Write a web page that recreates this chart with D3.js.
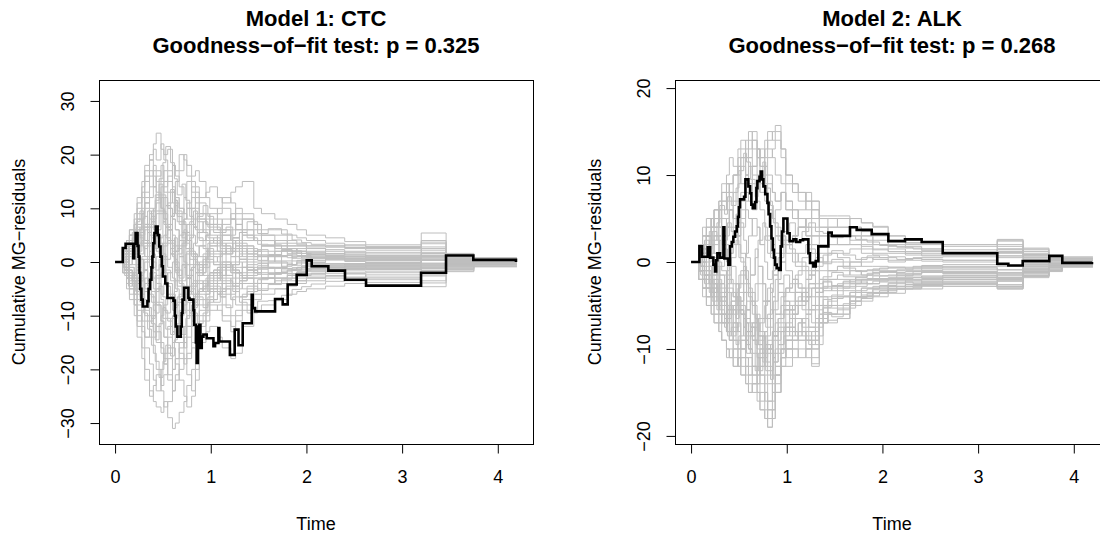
<!DOCTYPE html>
<html><head><meta charset="utf-8">
<script src="https://cdn.jsdelivr.net/npm/d3@7"></script>
<style>body{margin:0;background:#fff} text{font-family:"Liberation Sans",Arial,Helvetica,sans-serif;fill:#000}</style>
</head><body><svg id="c" width="1100" height="537" xmlns="http://www.w3.org/2000/svg"></svg>
<script>
// ---------- data ----------
const endTime = 4.2;
const xTicks = [0, 1, 2, 3, 4];
const ctcYTicks = [-30, -20, -10, 0, 10, 20, 30];
const alkYTicks = [-20, -10, 0, 10, 20];
const titles = [["Model 1: CTC", "Goodness\u2212of\u2212fit test: p = 0.325"],
                ["Model 2: ALK", "Goodness\u2212of\u2212fit test: p = 0.268"]];
const xLabel = "Time";
const yLabel = "Cumulative MG\u2212residuals";

// CTC simulated paths, group A
const ctcTimesA = [0,0.08,0.12,0.15,0.2,0.23,0.28,0.31,0.36,0.4,0.43,0.48,0.51,0.55,0.6,0.63,0.67,0.72,0.75,0.8,0.84,0.88,0.95,0.99,1.07,1.12,1.21,1.26,1.33,1.45,1.53,1.67,1.8,1.9,2.0,2.2,2.4,2.62,3.2,3.46,3.75];
const ctcSimsA = [
[0,1,3,5,8,12,15,18,20,22,24,21,19,17,14,12,10,9,8,10,12,9,8,7,6,8,9,7,6, 4,3,4,3,3,2.5,2,1.5,1.2,1.5,0.6,0.3],
[0,-1,-3,-5,-8,-12,-16,-20,-24,-26,-27,-28,-26,-29,-31,-30,-28,-26,-23,-20,-16,-12,-9,-7,-6,-5,-6,-4,-3, -3,-4,-3,-3,-3.5,-3,-2.5,-2.2,-2.8,-3.5,-1.2,-0.6],
[0,2,4,6,9,11,14,17,19,21,19,22,20,21,18,17,20,19,16,15,14,12,13,14,12,11,13,14,15, 10,9,8,7,6,5,4.5,3.8,3.2,5.4,1.6,0.8],
[0,-2,-5,-7,-10,-14,-18,-22,-25,-23,-21,-24,-27,-26,-24,-22,-20,-18,-21,-24,-22,-15,-13,-12,-14,-16,-18,-17,-12, -9,-8,-7,-6,-5.5,-5,-4.5,-4,-3.8,-4.6,-1.8,-0.9],
[0,1,2,4,6,9,12,15,17,14,12,10,8,11,13,15,17,20,18,16,17,15,12,10,8,6,5,7,8, 6,5,5,4,3.5,3,2.8,2.5,2.2,2.8,1.2,0.6],
[0,-1,-2,-4,-7,-10,-13,-16,-19,-22,-24,-20,-17,-14,-16,-19,-22,-25,-27,-25,-20,-14,-11,-9,-8,-10,-12,-11,-9, -7,-6,-5,-4.5,-4,-3.5,-3,-2.8,-2.4,-2.0,-1.0,-0.5],
[0,2,3,5,7,8,10,13,16,18,17,15,13,10,8,6,4,3,5,7,9,8,7,9,10,12,11,9,8, 7,6,6,5,4.5,4,3.5,3,2.7,3.4,1.4,0.7],
[0,-1,-3,-4,-6,-9,-12,-14,-12,-10,-13,-16,-19,-22,-20,-18,-16,-14,-12,-15,-13,-11,-10,-8,-9,-11,-13,-10,-8, -6,-5,-5,-4,-3.5,-3,-2.6,-2.2,-2,-2.6,-0.8,-0.4],
[0,1,3,4,5,7,9,11,12,14,16,18,15,13,11,9,7,8,10,12,10,8,6,4,3,5,4,2,1, 2,3,2,1.5,2,1.5,1.2,1,0.8,1.2,0.4,0.2],
[0,-2,-3,-5,-8,-11,-9,-7,-10,-13,-15,-17,-19,-16,-13,-10,-12,-15,-18,-16,-14,-10,-8,-7,-5,-4,-3,-2,-3, -4,-3,-3,-2.5,-2,-1.8,-1.5,-1.2,-1.0,-1.6,-0.6,-0.3],
[0,1,2,3,5,6,8,10,8,6,9,12,14,16,18,16,14,12,10,8,6,4,5,6,7,5,4,3,5, 4,4,3.5,3,3,2.6,2.3,2,1.8,2.2,0.9,0.5],
[0,-1,-2,-3,-4,-6,-8,-10,-12,-14,-12,-10,-8,-6,-9,-12,-14,-16,-14,-12,-10,-8,-6,-5,-4,-6,-7,-5,-4, -3,-3,-3,-2.5,-2,-2.2,-1.8,-1.5,-1.4,-0.9,-0.5,-0.3],
[0,2,4,3,6,8,6,4,7,10,12,10,8,6,4,2,5,8,11,14,13,11,9,8,6,7,8,6,4, 5,4,3,2,2.5,2,1.6,1.3,1.1,0.6,0.7,0.3],
[0,-2,-1,-3,-2,-4,-6,-4,-2,-5,-8,-11,-14,-17,-20,-18,-15,-12,-10,-8,-6,-5,-4,-3,-2,-4,-5,-3,-2, -1,-2,-2,-1.5,-1,-1.2,-1,-0.9,-0.7,-1.2,-0.2,-0.1],
[0,1,0,2,4,3,5,7,9,7,5,3,1,-1,-3,-5,-7,-5,-3,-1,1,3,2,1,0,-1,-2,-1,0, 1,1,0,-0.5,0.3,0,0.4,0.6,0.4,0.9,0.2,0.1],
[0,-1,1,-1,-3,-1,1,3,1,-2,-4,-6,-4,-2,0,2,4,6,4,2,0,-2,-1,0,1,2,1,0,-1, -2,-1,-1,-0.5,-0.2,-0.5,-0.4,-0.3,-0.1,-0.6,-0.1,0],
[0,2,1,3,2,5,8,11,14,17,15,12,9,6,3,0,-3,-1,2,5,3,1,0,-2,-3,-1,1,3,2, 1,0,1,1.5,1.2,1,0.8,0.7,0.5,1.8,0.3,0.1],
[0,-1,-3,-2,-5,-8,-11,-14,-11,-8,-5,-2,1,4,2,-1,-4,-7,-9,-11,-8,-5,-4,-2,-1,-3,-4,-2,-1, -2,-1,-2,-2.5,-2,-1.5,-1.3,-1.1,-0.9,-1.6,-0.4,-0.2],
[0,1,3,5,4,2,4,6,3,0,-3,0,3,6,9,12,10,7,4,1,-2,-1,1,3,5,3,2,4,3, 2,2,1,0.8,1,0.8,0.6,0.3,0.2,-0.5,0.1,0],
[0,-2,-4,-6,-5,-7,-5,-3,-6,-9,-12,-15,-18,-21,-24,-21,-18,-15,-12,-9,-6,-4,-3,-2,-1,0,-1,-2,-1, 0,-1,-1,-0.5,0,-0.3,-0.6,-0.6,-0.5,-1.0,-0.3,-0.1],
[0,0,2,4,7,10,13,16,19,16,13,10,7,4,1,-2,1,4,7,10,8,6,4,3,2,4,6,8,6, 4,3,2.5,2,1.6,1.4,1.5,1.8,1.5,2.5,0.8,0.4],
[0,-1,-2,-1,-3,-5,-8,-11,-14,-17,-20,-23,-21,-18,-15,-12,-9,-6,-3,-5,-7,-6,-5,-4,-6,-8,-10,-9,-7, -5,-4,-3.5,-3,-2.6,-2.4,-2.1,-1.9,-1.7,-2.4,-0.9,-0.4],
[0,1,2,1,3,5,3,1,-1,-3,-5,-7,-9,-11,-13,-15,-17,-19,-17,-15,-12,-9,-7,-5,-3,-5,-7,-8,-6, -4,-3,-2,-1.5,-1,-0.8,-0.6,-0.4,-0.3,0.3,-0.2,0],
[0,-1,0,2,3,6,9,12,10,8,11,14,17,15,13,11,9,12,15,13,11,9,7,5,4,3,2,1,3, 2,1,2,2.5,2,1.8,1.5,1.3,1.0,0.5,0.5,0.2],
[0,1,-1,-2,-4,-3,-6,-9,-12,-10,-8,-11,-14,-12,-10,-8,-6,-9,-12,-10,-8,-7,-6,-4,-2,-1,0,-2,-3, -2,-3,-4,-3.5,-3,-2.8,-2.6,-2.9,-3.0,-2.2,-1.4,-0.7],
[0,2,4,6,5,7,9,7,5,3,6,9,12,10,8,6,3,0,-3,-6,-4,-2,0,2,4,6,8,10,9, 7,5,4,3.5,3.2,3,2.8,3.2,2.9,4.0,1.5,0.7],
[0,-1,-2,-4,-6,-4,-2,0,2,4,2,0,-2,-4,-6,-8,-10,-8,-6,-4,-2,0,2,4,2,0,-2,-4,-5, -4,-3,-2,-2.2,-1.8,-1.5,-1.1,-0.8,-0.6,-0.2,-0.3,-0.1],
[0,0,1,2,1,-1,-3,-5,-3,-1,1,3,5,7,5,3,1,-1,-3,-1,1,3,5,7,9,10,8,6,5, 4,4,3,2.5,2,1.5,1.0,0.6,0.4,1.0,0.2,0.1]
];
// CTC simulated paths, group B
const ctcTimesB = [0,0.1,0.14,0.18,0.22,0.26,0.3,0.34,0.38,0.42,0.46,0.5,0.53,0.58,0.62,0.65,0.7,0.74,0.78,0.82,0.86,0.92,0.97,1.03,1.1,1.16,1.23,1.3,1.38,1.49,1.6,1.74,1.85,1.95,2.05,2.2,2.4,2.62,3.2,3.46,3.75];
const ctcSimsB = [
[0,1.5,2.5,0.5,-1.5,-3.5,-1.5,0.5,3.5,5.5,3.5,1.5,-1.5,-3.5,-1.5,1.5,3.5,5.5,2.5,0.5,-0.5,1.5,3.5,4.5,2.5,1.5,3.5,2.5,1.5, 2.3,1.4,1.2,0.7,1.1,0.8,0.6,0.4,0.6,1.1,0.3,0.15],
[0,-1.5,-3.5,-2.5,-0.5,1.5,3.5,5.5,7.5,4.5,1.5,-1.5,-4.5,-7.5,-5.5,-3.5,-0.5,1.5,-1.5,-3.5,-5.5,-4.5,-2.5,-1.5,-3.5,-2.5,-0.5,0.5,-1.5, -1.3,-2.2,-2.1,-1.4,-0.9,-1.1,-0.9,-0.6,-0.8,-1.5,-0.4,-0.25],
[0,2.5,3.5,5.5,7.5,9.5,6.5,3.5,1.5,-1.5,0.5,3.5,6.5,8.5,10.5,7.5,4.5,2.5,0.5,3.5,5.5,7.5,6.5,5.5,3.5,2.5,4.5,5.5,4.5, 3.3,3.2,2.3,1.7,1.2,1.3,1.1,0.9,0.7,0.3,0.45,0.25],
[0,-1.5,-0.5,1.5,0.5,-2.5,-5.5,-8.5,-10.5,-7.5,-4.5,-6.5,-9.5,-6.5,-3.5,-1.5,-4.5,-7.5,-9.5,-7.5,-5.5,-3.5,-5.5,-7.5,-5.5,-3.5,-4.5,-6.5,-5.5, -3.3,-2.3,-1.3,-1.6,-1.3,-1.1,-0.9,-1.1,-1.3,-0.6,-0.65,-0.35],
[0,0.5,-1.5,-3.5,-5.5,-2.5,0.5,3.5,6.5,9.5,12.5,9.5,6.5,3.5,0.5,-2.5,-0.5,2.5,4.5,6.5,4.5,2.5,0.5,-0.5,1.5,3.5,2.5,0.5,2.5, 1.3,0.2,-0.8,0.2,0.5,0.7,0.4,0.1,-0.2,0.3,0.05,0.05],
[0,0.5,2.5,1.5,3.5,0.5,-1.5,-3.5,-6.5,-9.5,-7.5,-10.5,-12.5,-10.5,-8.5,-6.5,-3.5,-0.5,-2.5,-4.5,-2.5,-0.5,-2.5,-3.5,-1.5,-0.5,-1.5,-3.5,-2.5, -1.3,-0.2,-1.2,-1.1,-0.7,-0.5,-0.3,-0.5,-0.3,0.4,-0.15,-0.05],
[0,-1.5,-0.5,1.5,3.5,5.5,8.5,6.5,4.5,2.5,4.5,7.5,10.5,8.5,11.5,9.5,7.5,5.5,7.5,9.5,7.5,5.5,4.5,3.5,1.5,2.5,4.5,3.5,1.5, 0.3,1.2,2.2,2.1,1.6,1.3,1.1,1.0,0.8,1.6,0.35,0.25],
[0,0.5,-1.5,-3.5,-1.5,0.5,-1.5,-4.5,-7.5,-5.5,-2.5,0.5,3.5,1.5,-1.5,-4.5,-6.5,-4.5,-1.5,1.5,-0.5,-2.5,-4.5,-2.5,-0.5,-2.5,-4.5,-3.5,-1.5, -2.3,-2.2,-1.7,-1.1,-1.5,-1.3,-1.1,-0.9,-0.6,-1.1,-0.45,-0.25],
[0,2.5,1.5,-0.5,1.5,3.5,6.5,9.5,7.5,11.5,14.5,12.5,10.5,13.5,11.5,8.5,5.5,2.5,-0.5,1.5,-1.5,0.5,2.5,1.5,-0.5,1.5,2.5,0.5,-1.5, -0.7,1.2,0.2,1.1,0.7,0.3,0.6,0.5,0.3,-0.3,0.15,0.05],
[0,-1.5,-2.5,-4.5,-3.5,-6.5,-9.5,-12.5,-15.5,-18.5,-21.5,-18.5,-15.5,-17.5,-14.5,-11.5,-13.5,-10.5,-7.5,-9.5,-11.5,-9.5,-7.5,-5.5,-6.5,-4.5,-5.5,-6.5,-4.5, -5.3,-4.2,-3.2,-2.2,-2.5,-2.1,-1.7,-1.4,-1.2,-1.9,-0.75,-0.35],
[0,1.5,2.5,4.5,6.5,4.5,2.5,5.5,8.5,6.5,9.5,7.5,4.5,1.5,-0.5,2.5,5.5,3.5,1.5,-0.5,-2.5,-0.5,1.5,-0.5,-2.5,-1.5,-0.5,1.5,0.5, 1.3,1.2,2.2,1.1,0.9,0.6,0.8,0.6,0.4,0.9,0.25,0.15],
[0,-0.5,-1.5,-3.5,-5.5,-7.5,-5.5,-8.5,-11.5,-14.5,-11.5,-8.5,-10.5,-13.5,-10.5,-7.5,-9.5,-6.5,-4.5,-6.5,-3.5,-5.5,-3.5,-1.5,-2.5,-0.5,-1.5,-2.5,-0.5, -0.3,-1.2,-0.2,-0.6,0.2,-0.1,-0.3,-0.3,-0.1,-0.9,-0.05,-0.05],
[0,1.5,3.5,1.5,3.5,6.5,3.5,6.5,9.5,12.5,15.5,18.5,21.5,18.5,15.5,12.5,14.5,11.5,8.5,6.5,8.5,10.5,8.5,6.5,5.5,6.5,4.5,5.5,7.5, 5.3,6.2,5.2,4.1,3.6,3.3,3.1,2.7,2.5,3.7,1.25,0.65],
[0,-2.5,-4.5,-3.5,-5.5,-3.5,-1.5,-3.5,-5.5,-2.5,-0.5,-2.5,0.5,2.5,4.5,2.5,-0.5,-2.5,-5.5,-8.5,-6.5,-8.5,-6.5,-4.5,-6.5,-8.5,-6.5,-7.5,-9.5, -7.3,-7.2,-6.2,-5.1,-4.6,-4.1,-3.6,-3.5,-3.3,-3.9,-1.65,-0.85]
];
const ctcObsTime = [0,0.08,0.11,0.19,0.20,0.215,0.235,0.245,0.255,0.262,0.275,0.289,0.338,0.35,0.365,0.38,0.39,0.40,0.411,0.425,0.445,0.46,0.475,0.488,0.50,0.525,0.547,0.61,0.625,0.634,0.651,0.686,0.697,0.705,0.721,0.766,0.777,0.819,0.826,0.845,0.853,0.865,0.875,0.881,0.892,0.906,0.923,0.958,1.028,1.045,1.08,1.09,1.2,1.25,1.29,1.334,1.428,1.439,1.463,1.672,1.752,1.804,1.898,2.003,2.055,2.229,2.403,2.623,3.198,3.459,3.744,4.19];
const ctcObsValue = [0,2.6,3.4,0.7,3.4,5.4,3.0,1.0,-2,-5,-7,-8.3,-7.3,-5,-3.3,-1,1.0,3.5,5.4,6.6,5,2.9,1,-0.8,-2.7,-4,-6.7,-7.2,-10,-12,-13.9,-12,-9.5,-7,-4.8,-6.7,-7.0,-9,-11.7,-15,-18.8,-12,-15,-11.7,-16,-13.9,-13.5,-14.2,-15.7,-15.1,-12.3,-14.8,-17.3,-12.6,-15.5,-11.4,-6.1,-8.6,-9.2,-6.9,-7.9,-4.2,-2.4,0.3,-0.8,-1.6,-3.3,-4.4,-2.0,1.2,0.4,0];

// ALK simulated paths, group A
const alkTimesA = [0,0.08,0.12,0.16,0.21,0.24,0.29,0.32,0.37,0.4,0.44,0.49,0.52,0.57,0.6,0.64,0.69,0.72,0.77,0.8,0.85,0.88,0.94,0.99,1.06,1.12,1.2,1.26,1.34,1.43,1.53,1.66,1.78,1.9,2.06,2.24,2.41,2.63,3.2,3.47,3.74,3.88];
const alkSimsA = [
[0,2,3,5,4,6,7,9,10,12,11,13,14,12,15,13,12,11,13,15,14,15,12,10,9,8,7,6, 5,5,4,4,3.5,3,2.5,2,2,1.8,2.4,1.4,0.6,0.5],
[0,-2,-4,-5,-6,-7,-8,-9,-10,-11,-10,-12,-11,-13,-14,-15,-16,-17,-18,-19,-17,-14,-11,-10,-9,-8,-9,-11, -7,-6,-5,-4,-3.5,-3,-2.8,-2.8,-2.6,-2.5,-3.0,-1.6,-1.0,-0.5],
[0,1,2,1,3,4,5,6,8,9,10,12,13,14,12,11,10,9,11,12,13,14,13,9,8,7,8,7, 5,4,4,5,4.5,4,3,2.2,2.1,2,2.6,1.6,0.7,0.6],
[0,-1,-3,-4,-5,-6,-7,-9,-11,-10,-12,-11,-13,-14,-15,-14,-15,-16,-15,-17,-18,-15,-12,-12,-11,-10,-11,-12, -6,-7,-6.5,-4.5,-4.2,-4,-3.6,-3.1,-3.1,-2.8,-3.1,-1.8,-1.1,-0.6],
[0,1,3,4,5,4,6,7,9,8,10,11,9,12,13,14,13,12,10,9,8,7,8,6,5,6,7,5, 4,3,3,2.5,3,2.5,2,1.8,1.5,1.2,1.5,1,0.4,0.3],
[0,-1,-2,-4,-3,-5,-6,-7,-8,-9,-11,-12,-13,-12,-11,-13,-14,-12,-11,-10,-9,-8,-7,-9,-10,-11,-10,-9, -6,-5,-5,-4,-3.8,-3.5,-3.1,-2.6,-2.4,-2.2,-2.6,-1.4,-0.8,-0.4],
[0,2,1,3,2,4,3,5,4,6,5,7,8,10,9,11,13,12,14,13,12,10,9,7,6,5,4,3, 3,2,2,3,2,1.5,1.2,1,1.2,1,2,1.2,0.5,0.2],
[0,-2,-3,-2,-4,-3,-5,-4,-6,-5,-7,-8,-6,-9,-10,-12,-11,-13,-14,-16,-15,-13,-11,-9,-8,-9,-10,-8, -5,-6,-6,-5,-4,-3.6,-3,-2.4,-2.2,-2.0,-2.2,-1.2,-0.6,-0.3],
[0,1,0,3,2,3,5,3,4,6,5,4,6,8,7,6,9,8,11,10,8,7,8,6,5,4,3,2, 2,1,1,1.5,1,0.8,0.6,0.4,0.5,0.6,1.2,0.8,0.3,0.2],
[0,-1,0,-2,-3,-2,-4,-5,-3,-5,-6,-4,-5,-7,-8,-7,-9,-10,-8,-10,-11,-12,-10,-9,-8,-7,-6,-7, -4,-5,-4,-3.5,-3,-3,-2.4,-2,-2,-1.8,-2.2,-1.0,-0.5,-0.2],
[0,2,4,3,5,6,5,7,6,8,7,9,11,10,12,14,12,10,8,6,5,4,3,2,3,4,5,4, 3,4,5,4,3,2,1.8,1.6,1.5,1.4,1.8,0.8,0.5,0.4],
[0,-2,-1,-3,-4,-3,-5,-6,-5,-7,-8,-9,-10,-8,-7,-9,-11,-13,-15,-17,-16,-13,-10,-8,-6,-5,-4,-5, -3,-3,-2.5,-2,-2.5,-2.2,-2,-1.8,-1.6,-1.5,-1.8,-0.8,-0.4,-0.2],
[0,1,2,3,4,5,4,3,2,1,3,5,7,9,11,10,9,8,7,6,5,6,8,7,6,5,4,3, 2,2,3,3,2.5,2,1.5,1,0.8,1,1.4,0.6,0.2,0.1],
[0,-1,-3,-5,-6,-7,-8,-9,-10,-11,-12,-11,-10,-9,-8,-7,-6,-8,-10,-12,-14,-12,-10,-11,-10,-9,-10,-11.7, -7,-6.7,-6.5,-4,-3.5,-3.2,-2.8,-2.6,-2.2,-2.0,-2.8,-1.3,-0.7,-0.4],
[0,1,-1,0,2,1,3,2,0,-2,-4,-3,-1,1,3,5,4,2,0,-2,-1,1,3,2,1,0,-1,0, 1,0,0,-0.5,0,0.5,0.2,0.4,0.3,0.2,0.7,0.3,0.1,0],
[0,-1,1,-1,-2,0,-2,-3,-1,1,3,2,0,-2,-4,-6,-8,-7,-5,-3,-4,-6,-5,-3,-2,-1,-2,-1, -2,-1,-1,-1.5,-1,-0.8,-0.6,-0.8,-0.7,-0.5,-0.4,-0.3,-0.2,-0.1],
[0,2,1,3,4,5,6,8,9,7,5,3,1,-1,-3,-5,-7,-9,-8,-6,-4,-2,0,2,3,4,3,2, 2,3,2,2,1.8,1.4,1.2,1.2,1,0.8,1.0,0.5,0.2,0.1],
[0,-1,-2,-3,-2,-4,-5,-6,-7,-8,-9,-10,-11,-12,-13,-12,-13,-14,-16,-18,-17,-15,-12,-10,-9,-8,-9,-10, -7,-6,-5.5,-4.5,-4.5,-3.6,-3.1,-3.1,-2.8,-2.6,-2.8,-1.6,-0.9,-0.5],
[0,0,1,2,1,2,3,2,4,6,8,10,12,13,14,15,13,11,9,7,5,3,2,1,0,1,2,1, 0,1,0.5,0,0.5,0.3,0,0.2,0.1,0,0.5,0.2,0,0],
[0,-1,-2,-1,-3,-2,-3,-4,-5,-6,-5,-4,-6,-8,-10,-12,-14,-15,-17,-19,-18,-15,-11,-9,-8,-7,-8,-9, -5,-4.5,-4,-3.5,-3,-2.8,-2.5,-2.2,-2,-1.8,-2.0,-1.2,-0.6,-0.3],
[0,1,2,4,5,6,7,8,7,9,10,11,12,10,9,11,12,13,12,14,15,15.7,13,10,9,8,6,7, 5.3,5.3,5.3,5,4.5,4.1,3,2.2,2.2,2.0,2.5,1.5,0.6,0.4],
[0,-1,-2,-3,-4,-5,-4,-6,-7,-6,-8,-7,-9,-8,-10,-9,-11,-10,-12,-13,-11,-9,-8,-7,-6,-5,-6,-5, -4,-4,-3,-2.5,-2,-1.6,-1.5,-1.4,-1.2,-1.3,-1.6,-0.9,-0.4,-0.3],
[0,1,0,1,2,3,1,2,3,4,2,3,4,6,5,3,4,2,3,1,2,3,1,2,3,4,5,6, 4,3,2,2,1.5,1,1,0.8,0.7,0.8,1.1,0.8,0.3,0.1],
[0,-1,-2,-3,-5,-6,-7,-6,-8,-9,-7,-8,-10,-11,-13,-14,-15,-17,-18,-16,-13,-10,-8,-6,-5,-4,-3,-4, -3,-2,-2,-2.5,-2,-2,-1.8,-1.6,-1.8,-1.6,-2.0,-1.1,-0.6,-0.2],
[0,1,2,3,2,1,0,-1,-2,-3,-4,-5,-6,-7,-8,-9,-10,-11,-12,-10,-8,-6,-4,-3,-2,-3,-4,-3, -2,-2,-1.5,-1,-1.5,-1.2,-1,-1,-0.8,-0.9,-1.2,-0.5,-0.2,0],
[0,-1,-2,-3,-4,-5,-6,-7,-8,-9,-10,-11,-12,-14,-15,-14,-13,-12,-13,-14,-15,-13,-11,-10,-9,-8,-9,-10, -6.5,-6,-6,-4.5,-4,-3.5,-3.1,-3,-2.7,-2.8,-3.1,-1.7,-1.0,-0.5],
[0,2,3,2,4,5,4,3,5,6,4,3,5,7,8,9,7,6,4,3,2,1,0,-1,-2,-3,-2,-1, 0,-1,-0.5,0,-0.5,-0.5,-0.6,-0.6,-0.4,-0.3,-0.5,-0.2,-0.1,0],
[0,-2,-3,-4,-3,-5,-6,-7,-6,-8,-9,-10,-9,-11,-12,-13,-12,-11,-10,-9,-8,-7,-6,-5,-6,-5,-4,-3, -1,-1,-0.5,-1,-1.5,-1,-1.2,-1.1,-1.0,-1.2,-1.4,-0.7,-0.3,-0.2]
];
// ALK simulated paths, group B
const alkTimesB = [0,0.1,0.14,0.19,0.22,0.27,0.3,0.35,0.38,0.42,0.47,0.5,0.55,0.58,0.62,0.67,0.7,0.75,0.78,0.83,0.86,0.91,0.97,1.03,1.09,1.16,1.23,1.3,1.38,1.47,1.59,1.72,1.84,1.97,2.15,2.32,2.41,2.63,3.2,3.47,3.74,3.88];
const alkSimsB = [
[0,-0.5,-1.5,-0.5,-2.5,-3.5,-1.5,-3.5,-5.5,-4.5,-6.5,-5.5,-7.5,-6.5,-8.5,-7.5,-9.5,-8.5,-10.5,-9.5,-11.5,-10.5,-8.5,-7.5,-6.5,-7.5,-8.5,-7.5, -4.3,-3.8,-3.3,-2.8,-2.5,-2.3,-2.1,-2.1,-1.9,-1.8,-2.1,-1.1,-0.65,-0.35],
[0,0.5,-1.5,-2.5,-3.5,-2.5,-4.5,-3.5,-5.5,-3.5,-6.5,-4.5,-2.5,-5.5,-3.5,-6.5,-8.5,-6.5,-4.5,-7.5,-5.5,-3.5,-4.5,-5.5,-3.5,-4.5,-2.5,-3.5, -2.2,-2.7,-2.2,-1.7,-1.3,-1.1,-1.5,-1.3,-1.1,-1.2,-1.5,-0.7,-0.35,-0.25],
[0,0.5,-1.5,-2.5,-0.5,-3.5,-5.5,-7.5,-6.5,-8.5,-5.5,-3.5,-6.5,-4.5,-7.5,-9.5,-6.5,-4.5,-7.5,-5.5,-8.5,-6.5,-4.5,-5.5,-3.5,-4.5,-5.5,-3.5, -3.3,-2.8,-3.0,-2.5,-2.1,-1.9,-1.6,-1.4,-1.2,-1.3,-1.8,-0.9,-0.35,-0.25],
[0,0.5,1.5,-0.5,-1.5,0.5,-1.5,-3.5,-2.5,-0.5,-2.5,-4.5,-3.5,-5.5,-7.5,-4.5,-2.5,-4.5,-6.5,-3.5,-1.5,-3.5,-5.5,-4.5,-2.5,-3.5,-5.5,-6.5, -5.2,-4.2,-3.9,-3.3,-3.1,-2.7,-2.3,-2.5,-2.4,-2.3,-2.8,-1.6,-0.95,-0.45],
[0,-1.5,0.5,2.5,0.5,-1.5,-0.5,1.5,-0.5,-2.5,-4.5,-2.5,-0.5,-2.5,-4.5,-6.5,-8.5,-10.5,-12.5,-10.5,-8.5,-9.5,-7.5,-5.5,-3.5,-4.5,-2.5,-3.5, -2.3,-2.8,-2.3,-1.8,-1.5,-1.1,-0.9,-0.7,-0.5,-0.6,-0.9,-0.35,-0.15,-0.05],
[0,0.5,2.5,1.5,3.5,2.5,0.5,2.5,4.5,3.5,5.5,4.5,2.5,0.5,-1.5,0.5,2.5,4.5,2.5,0.5,-1.5,0.5,2.5,1.5,-0.5,0.5,1.5,-0.5, 0.8,1.3,0.8,0.3,0.7,0.5,0.3,0.5,0.3,0.2,0.7,0.45,0.15,0.05],
[0,-0.5,-2.5,-1.5,-3.5,-5.5,-3.5,-1.5,-3.5,-5.5,-7.5,-5.5,-8.5,-10.5,-8.5,-6.5,-9.5,-11.5,-9.5,-12.5,-10.5,-7.5,-5.5,-6.5,-4.5,-5.5,-7.5,-5.5, -2.8,-3.3,-2.8,-2.3,-2.5,-2.1,-1.9,-1.8,-1.7,-1.6,-1.9,-1.2,-0.45,-0.25],
[0,1.5,-0.5,-2.5,-1.5,0.5,2.5,0.5,-1.5,0.5,2.5,0.5,-1.5,-3.5,-1.5,1.5,-0.5,-2.5,-4.5,-2.5,-0.5,-2.5,-1.5,-3.5,-1.5,-0.5,-1.5,0.5, -0.2,0.3,-0.7,-1.1,-0.9,-0.7,-0.7,-0.5,-0.6,-0.7,-0.9,-0.35,-0.15,-0.05],
[0,-0.5,-1.5,-3.5,-4.5,-2.5,-4.5,-6.5,-8.5,-7.5,-9.5,-8.5,-6.5,-8.5,-10.5,-12.5,-10.5,-8.5,-11.5,-13.5,-11.5,-9.5,-7.5,-8.5,-6.5,-8.5,-9.5,-8.5, -5.3,-5.3,-4.8,-4.0,-3.6,-3.3,-2.8,-2.7,-2.5,-2.5,-2.8,-1.6,-0.95,-0.45],
[0,0.5,1.5,3.5,2.5,4.5,6.5,5.5,7.5,6.5,8.5,10.5,12.5,11.5,9.5,7.5,9.5,11.5,8.5,6.5,4.5,2.5,3.5,4.5,2.5,3.5,4.5,3.5, 3.3,2.8,3.0,2.6,2.3,1.9,1.7,1.5,1.3,1.1,1.5,0.85,0.35,0.15],
[0,-0.5,1.5,-0.5,-2.5,-4.5,-2.5,-4.5,-6.5,-4.5,-2.5,-5.5,-7.5,-9.5,-7.5,-10.5,-12.5,-10.5,-8.5,-6.5,-8.5,-6.5,-5.5,-7.5,-8.5,-6.5,-7.5,-9.5, -5.8,-6.3,-5.3,-4.1,-3.9,-3.5,-3.1,-2.9,-2.6,-2.4,-2.9,-1.6,-1.05,-0.55],
[0,-0.5,0.5,-1.5,-2.5,-0.5,-2.5,-4.5,-6.5,-5.5,-3.5,-1.5,-3.5,-5.5,-4.5,-2.5,-0.5,-2.5,-4.5,-6.5,-4.5,-2.5,-3.5,-2.5,-4.5,-3.5,-1.5,-2.5, -1.7,-1.2,-1.7,-2.1,-1.9,-1.6,-1.3,-1.1,-1.0,-1.1,-1.3,-0.55,-0.35,-0.15]
];
const alkObsTime = [0,0.087,0.115,0.174,0.199,0.233,0.251,0.262,0.275,0.303,0.338,0.348,0.39,0.407,0.425,0.442,0.46,0.477,0.49,0.50,0.512,0.554,0.568,0.599,0.617,0.63,0.645,0.669,0.683,0.693,0.715,0.728,0.742,0.756,0.775,0.798,0.81,0.826,0.84,0.854,0.866,0.878,0.895,0.92,0.937,0.95,0.965,1.007,1.03,1.07,1.10,1.14,1.17,1.226,1.243,1.278,1.303,1.33,1.435,1.47,1.661,1.731,1.888,2.062,2.236,2.41,2.63,3.2,3.316,3.466,3.744,3.88,4.19];
const alkObsValue = [0,1.8,0.6,1.7,0.5,-0.3,-1.1,0.2,1.0,0.5,4.0,0.4,-0.3,1.8,2.3,2.9,3.5,4.1,5.2,6.3,7.2,7.5,9.5,8.7,7.9,6.6,6.2,6.9,8.5,9.3,9.8,10.4,9.5,8.7,7.8,6.8,5.5,4.1,2.7,1.4,0.5,-0.3,-0.7,-0.9,1.8,3.5,5.0,3.3,2.4,2.6,2.3,2.5,2.6,1.0,-0.1,-0.5,0.1,1.8,3.4,3.0,4.0,3.7,3.2,2.4,2.6,2.3,1.0,-0.2,-0.4,0.1,0.7,-0.1,0];

// ---------- drawing ----------
const svg = d3.select("#c");
const PLOT_W = 434, TOP = 80, BOTTOM = 444;
const FS = 18, TFS = 22;

function panel(cfg) {
  const x = d3.scaleLinear().domain([-0.168, 4.368]).range([cfg.left, cfg.left + PLOT_W]);
  const y = d3.scaleLinear().domain([-cfg.ymax, cfg.ymax]).range([BOTTOM, TOP]);
  const g = svg.append("g");
  const line = d3.line().x(d => x(d[0])).y(d => y(d[1])).curve(d3.curveStepAfter);

  cfg.groups.forEach(([times, sims]) => {
    sims.forEach(vals => {
      const n = Math.min(vals.length, times.length);
      const pts = [];
      for (let i = 0; i < n; i++) pts.push([times[i], vals[i]]);
      pts.push([endTime, vals[n - 1]]);
      g.append("path").attr("d", line(pts)).attr("fill", "none")
        .attr("stroke", "#bebebe").attr("stroke-width", 1);
    });
  });

  const obs = cfg.obsT.map((t, i) => [t, cfg.obsV[i]]);
  g.append("path").attr("d", line(obs)).attr("fill", "none")
    .attr("stroke", "#000").attr("stroke-width", 2.6).attr("stroke-linejoin", "miter");

  // box
  g.append("rect").attr("x", cfg.left + 0.5).attr("y", TOP + 0.5)
    .attr("width", PLOT_W).attr("height", BOTTOM - TOP)
    .attr("fill", "none").attr("stroke", "#000").attr("stroke-width", 1);

  // x axis
  const ax = g.append("g").attr("transform", `translate(0,${BOTTOM + 0.5})`)
    .call(d3.axisBottom(x).tickValues(xTicks).tickSize(9).tickPadding(17).tickFormat(d3.format("d")));
  ax.select(".domain").remove();
  ax.selectAll("line").attr("stroke", "#000");
  ax.selectAll("text").attr("font-size", FS).attr("font-family", "Liberation Sans, Arial, sans-serif").attr("fill", "#000");

  // y axis
  const ay = g.append("g").attr("transform", `translate(${cfg.left + 0.5},0)`)
    .call(d3.axisLeft(y).tickValues(cfg.yTicks).tickSize(9)
      .tickFormat(d => (d < 0 ? "\u2212" + Math.abs(d) : String(d))));
  ay.select(".domain").remove();
  ay.selectAll("line").attr("stroke", "#000");
  ay.selectAll("text").attr("x", 0).attr("y", 0).attr("dy", 0)
    .attr("text-anchor", "middle").attr("transform", "translate(-26,0) rotate(-90)")
    .attr("font-size", FS).attr("font-family", "Liberation Sans, Arial, sans-serif").attr("fill", "#000");

  // titles
  const cx = cfg.left + PLOT_W / 2;
  g.append("text").attr("x", cx).attr("y", 26).attr("text-anchor", "middle")
    .attr("font-size", TFS).attr("font-weight", "bold").text(cfg.title[0]);
  g.append("text").attr("x", cx).attr("y", 53).attr("text-anchor", "middle")
    .attr("font-size", TFS).attr("font-weight", "bold").text(cfg.title[1]);

  // axis labels
  g.append("text").attr("x", cx).attr("y", 530).attr("text-anchor", "middle")
    .attr("font-size", FS).text(xLabel);
  g.append("text").attr("transform", `translate(${cfg.left - 74},${(TOP + BOTTOM) / 2}) rotate(-90)`)
    .attr("text-anchor", "middle").attr("font-size", FS).text(yLabel);
}

panel({left: 99, ymax: 33.9, groups: [[ctcTimesA, ctcSimsA], [ctcTimesB, ctcSimsB]], obsT: ctcObsTime, obsV: ctcObsValue, yTicks: ctcYTicks, title: titles[0]});
panel({left: 675, ymax: 20.93, groups: [[alkTimesA, alkSimsA], [alkTimesB, alkSimsB]], obsT: alkObsTime, obsV: alkObsValue, yTicks: alkYTicks, title: titles[1]});
</script>
</body></html>
